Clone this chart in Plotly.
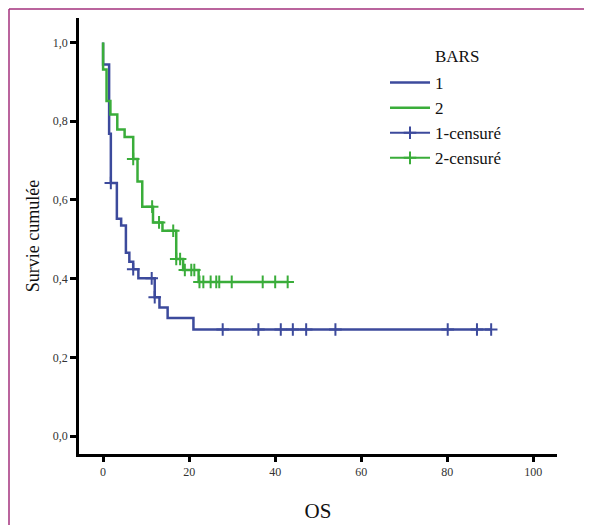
import plotly.graph_objects as go

# ---- data ----
g1_times = [0, 1.4, 1.8, 3.2, 4.2, 5.3, 6.1, 7.0, 8.2, 12.0, 13.1, 15.0, 21.0]
g1_surv = [0.944, 0.768, 0.643, 0.552, 0.535, 0.466, 0.443, 0.424, 0.401, 0.353, 0.327, 0.300, 0.271]
g1_end = 90.2
g1_cens_t = [1.8, 7.0, 11.3, 12.0, 27.8, 36.1, 41.3, 44.1, 47.2, 54.0, 80.1, 86.9, 90.2]
g1_cens_s = [0.643, 0.424, 0.401, 0.353, 0.271, 0.271, 0.271, 0.271, 0.271, 0.271, 0.271, 0.271, 0.271]

g2_times = [0, 0.8, 1.7, 3.3, 5.0, 7.0, 8.0, 9.1, 11.6, 13.8, 17.0, 18.6, 22.2]
g2_surv = [0.931, 0.851, 0.817, 0.779, 0.760, 0.704, 0.647, 0.583, 0.543, 0.522, 0.450, 0.422, 0.392]
g2_end = 42.9
g2_cens_t = [7.0, 11.4, 13.0, 16.3, 17.0, 17.9, 19.0, 20.5, 21.2, 22.4, 23.3, 25.0, 26.3, 27.0, 29.9, 37.1, 40.0, 42.9]
g2_cens_s = [0.704, 0.583, 0.543, 0.522, 0.450, 0.450, 0.422, 0.422, 0.422,
             0.392, 0.392, 0.392, 0.392, 0.392, 0.392, 0.392, 0.392, 0.392]

x_ticks = [0, 20, 40, 60, 80, 100]
y_ticks = [0.0, 0.2, 0.4, 0.6, 0.8, 1.0]

BLUE = "#3c4a9c"
GREEN = "#3aad3a"
FONT = "Liberation Serif"


def step_xy(times, surv, end):
    xs = [0] + list(times) + [end]
    ys = [1.0] + list(surv) + [surv[-1]]
    return xs, ys


def sep(vals):
    out = []
    for v in vals:
        out += [v, None]
    return out


fig = go.Figure()
for name, times, surv, end, col in [("1", g1_times, g1_surv, g1_end, BLUE),
                                     ("2", g2_times, g2_surv, g2_end, GREEN)]:
    xs, ys = step_xy(times, surv, end)
    fig.add_trace(go.Scatter(x=xs, y=ys, mode="lines", name=name,
                             line=dict(color=col, width=2.5, shape="hv")))

for name, ct, cs, col in [("1-censuré", g1_cens_t, g1_cens_s, BLUE),
                          ("2-censuré", g2_cens_t, g2_cens_s, GREEN)]:
    fig.add_trace(go.Scatter(x=sep(ct), y=sep(cs), mode="lines+markers", name=name,
                             line=dict(color=col, width=2),
                             marker=dict(symbol="cross-thin", size=9,
                                         line=dict(color=col, width=2), color=col),
                             connectgaps=False))

OFF = 8  # page body margin
W, H = 592 - OFF, 525 - OFF
# plot area in page pixels
PX0, PX1, PY0, PY1 = 79, 557, 18, 454
L, R, T, B = PX0 - OFF, W - (PX1 - OFF), PY0 - OFF, H - (PY1 - OFF)
pw, ph = W - L - R, H - T - B


def px_x(p):
    return (p - PX0) / pw


def px_y(p):
    return (PY1 - p) / ph


fig.update_layout(
    width=W, height=H,
    margin=dict(l=L, r=R, t=T, b=B, autoexpand=False),
    paper_bgcolor="white", plot_bgcolor="white",
    separators=", ",
    font=dict(family=FONT, color="#111111"),
    showlegend=True,
    legend=dict(x=px_x(385), y=px_y(65), xanchor="left", yanchor="top",
                font=dict(family=FONT, size=17, color="#111111"),
                itemwidth=40, bgcolor="rgba(0,0,0,0)", tracegroupgap=0),
    xaxis=dict(range=[-5.6, 105.5], tickvals=x_ticks, showgrid=False, zeroline=False,
               showline=True, linecolor="black", linewidth=2.5,
               ticks="outside", ticklen=5, tickwidth=2.5, tickcolor="black",
               tickfont=dict(family=FONT, size=12, color="#333333"),
               title=dict(text="OS", font=dict(family=FONT, size=21, color="#111111"), standoff=26)),
    yaxis=dict(range=[-0.045, 1.062], tickvals=y_ticks, tickformat=".1f", showgrid=False,
               zeroline=False, showline=True, linecolor="black", linewidth=2.5,
               ticks="outside", ticklen=6, tickwidth=2.5, tickcolor="black",
               tickfont=dict(family=FONT, size=12, color="#333333"),
               title=dict(text="Survie cumulée", font=dict(family=FONT, size=18, color="#111111"), standoff=9)),
    annotations=[dict(text="BARS", xref="paper", yref="paper", x=px_x(433), y=px_y(57),
                      xanchor="left", yanchor="middle", showarrow=False,
                      font=dict(family=FONT, size=17, color="#111111"))],
    shapes=[
        dict(type="line", xref="paper", yref="paper", x0=px_x(9), x1=px_x(600),
             y0=px_y(9), y1=px_y(9), line=dict(color="#a3307c", width=1.5)),
        dict(type="line", xref="paper", yref="paper", x0=px_x(9), x1=px_x(9),
             y0=px_y(9), y1=px_y(530), line=dict(color="#a3307c", width=1.5)),
    ],
)

fig.write_html("out.html")
